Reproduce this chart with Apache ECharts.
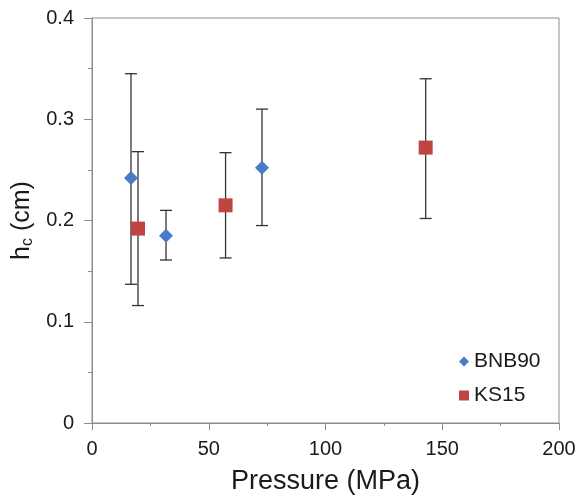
<!DOCTYPE html>
<html><head><meta charset="utf-8">
<script src="https://cdn.jsdelivr.net/npm/echarts@6/dist/echarts.min.js"></script>
<style>html,body{margin:0;padding:0;background:#fff}#c{width:579px;height:497px}</style>
</head><body><div id="c"></div>
<script>
const bnbX = [16.7, 31.7, 72.8];
const bnbY = [0.242, 0.185, 0.252];
const bnbLow = [0.137, 0.161, 0.195];
const bnbHigh = [0.345, 0.210, 0.310];
const ksX = [19.7, 57.2, 142.9];
const ksY = [0.192, 0.215, 0.272];
const ksLow = [0.116, 0.163, 0.202];
const ksHigh = [0.268, 0.267, 0.340];
const xTicks = [0, 50, 100, 150, 200];
const yTicks = [0, 0.1, 0.2, 0.3, 0.4];

const font = 'Liberation Sans, Arial, sans-serif';
const axisGray = '#8c8c8c';
const txt = '#1a1a1a';

function errData(xs, lo, hi) { return xs.map((x, i) => [x, lo[i], hi[i]]); }
function errRender(params, api) {
  const x = api.value(0);
  const lo = api.coord([x, api.value(1)]);
  const hi = api.coord([x, api.value(2)]);
  const cap = 6;
  const st = { stroke: '#333', lineWidth: 1.3 };
  return { type: 'group', children: [
    { type: 'line', shape: { x1: lo[0], y1: lo[1], x2: hi[0], y2: hi[1] }, style: st },
    { type: 'line', shape: { x1: lo[0] - cap, y1: lo[1], x2: lo[0] + cap, y2: lo[1] }, style: st },
    { type: 'line', shape: { x1: hi[0] - cap, y1: hi[1], x2: hi[0] + cap, y2: hi[1] }, style: st }
  ]};
}

const chart = echarts.init(document.getElementById('c'), null, { renderer: 'canvas' });
chart.setOption({
  animation: false,
  textStyle: { fontFamily: font },
  grid: { left: 92, right: 20, top: 18, bottom: 74, show: true, borderColor: axisGray, borderWidth: 1,
    containLabel: false, outerBoundsMode: 'none' },
  xAxis: {
    type: 'value', min: 0, max: 200, interval: 50,
    name: 'Pressure (MPa)', nameLocation: 'middle', nameGap: 45,
    nameTextStyle: { fontSize: 27, color: txt, fontFamily: font },
    axisLine: { lineStyle: { color: axisGray } },
    axisTick: { show: true, length: 7, lineStyle: { color: axisGray } },
    minorTick: { show: true, splitNumber: 2, length: 3, lineStyle: { color: axisGray } },
    axisLabel: { fontSize: 20, color: txt, margin: 16, fontFamily: font,
      formatter: v => xTicks.includes(v) ? String(v) : '' },
    splitLine: { show: false }
  },
  yAxis: {
    type: 'value', min: 0, max: 0.4, interval: 0.1,
    name: 'h{sub|c} (cm)', nameLocation: 'middle', nameGap: 56, nameRotate: 90,
    nameTextStyle: { fontSize: 25, color: txt, fontFamily: font,
      rich: { sub: { fontSize: 16, color: txt, fontFamily: font, padding: [11, 0, 0, 0] } } },
    axisLine: { show: true, lineStyle: { color: axisGray } },
    axisTick: { show: true, length: 8, lineStyle: { color: axisGray } },
    minorTick: { show: true, splitNumber: 2, length: 4, lineStyle: { color: axisGray } },
    axisLabel: { fontSize: 20, color: txt, margin: 18, fontFamily: font,
      formatter: v => { const m = yTicks.find(t => Math.abs(t - v) < 1e-9); return m === undefined ? '' : (m === 0 ? '0' : m.toFixed(1)); } },
    splitLine: { show: false }
  },
  legend: {
    orient: 'vertical', left: 454, top: 346, itemGap: 13,
    itemWidth: 10, itemHeight: 10,
    textStyle: { fontSize: 21, color: txt, fontFamily: font, padding: [0, 0, 0, 0] },
    data: [{ name: 'BNB90', icon: 'diamond' }, { name: 'KS15', icon: 'rect' }]
  },
  series: [
    { type: 'custom', name: 'errBNB', renderItem: errRender, data: errData(bnbX, bnbLow, bnbHigh), z: 1, silent: true },
    { type: 'custom', name: 'errKS', renderItem: errRender, data: errData(ksX, ksLow, ksHigh), z: 1, silent: true },
    { type: 'scatter', name: 'BNB90', symbol: 'diamond', symbolSize: 14, z: 3,
      itemStyle: { color: '#4a7bc8', opacity: 1 }, data: bnbX.map((x, i) => [x, bnbY[i]]) },
    { type: 'scatter', name: 'KS15', symbol: 'rect', symbolSize: 14, z: 3,
      itemStyle: { color: '#c0443f', opacity: 1 }, data: ksX.map((x, i) => [x, ksY[i]]) }
  ]
});
</script></body></html>
